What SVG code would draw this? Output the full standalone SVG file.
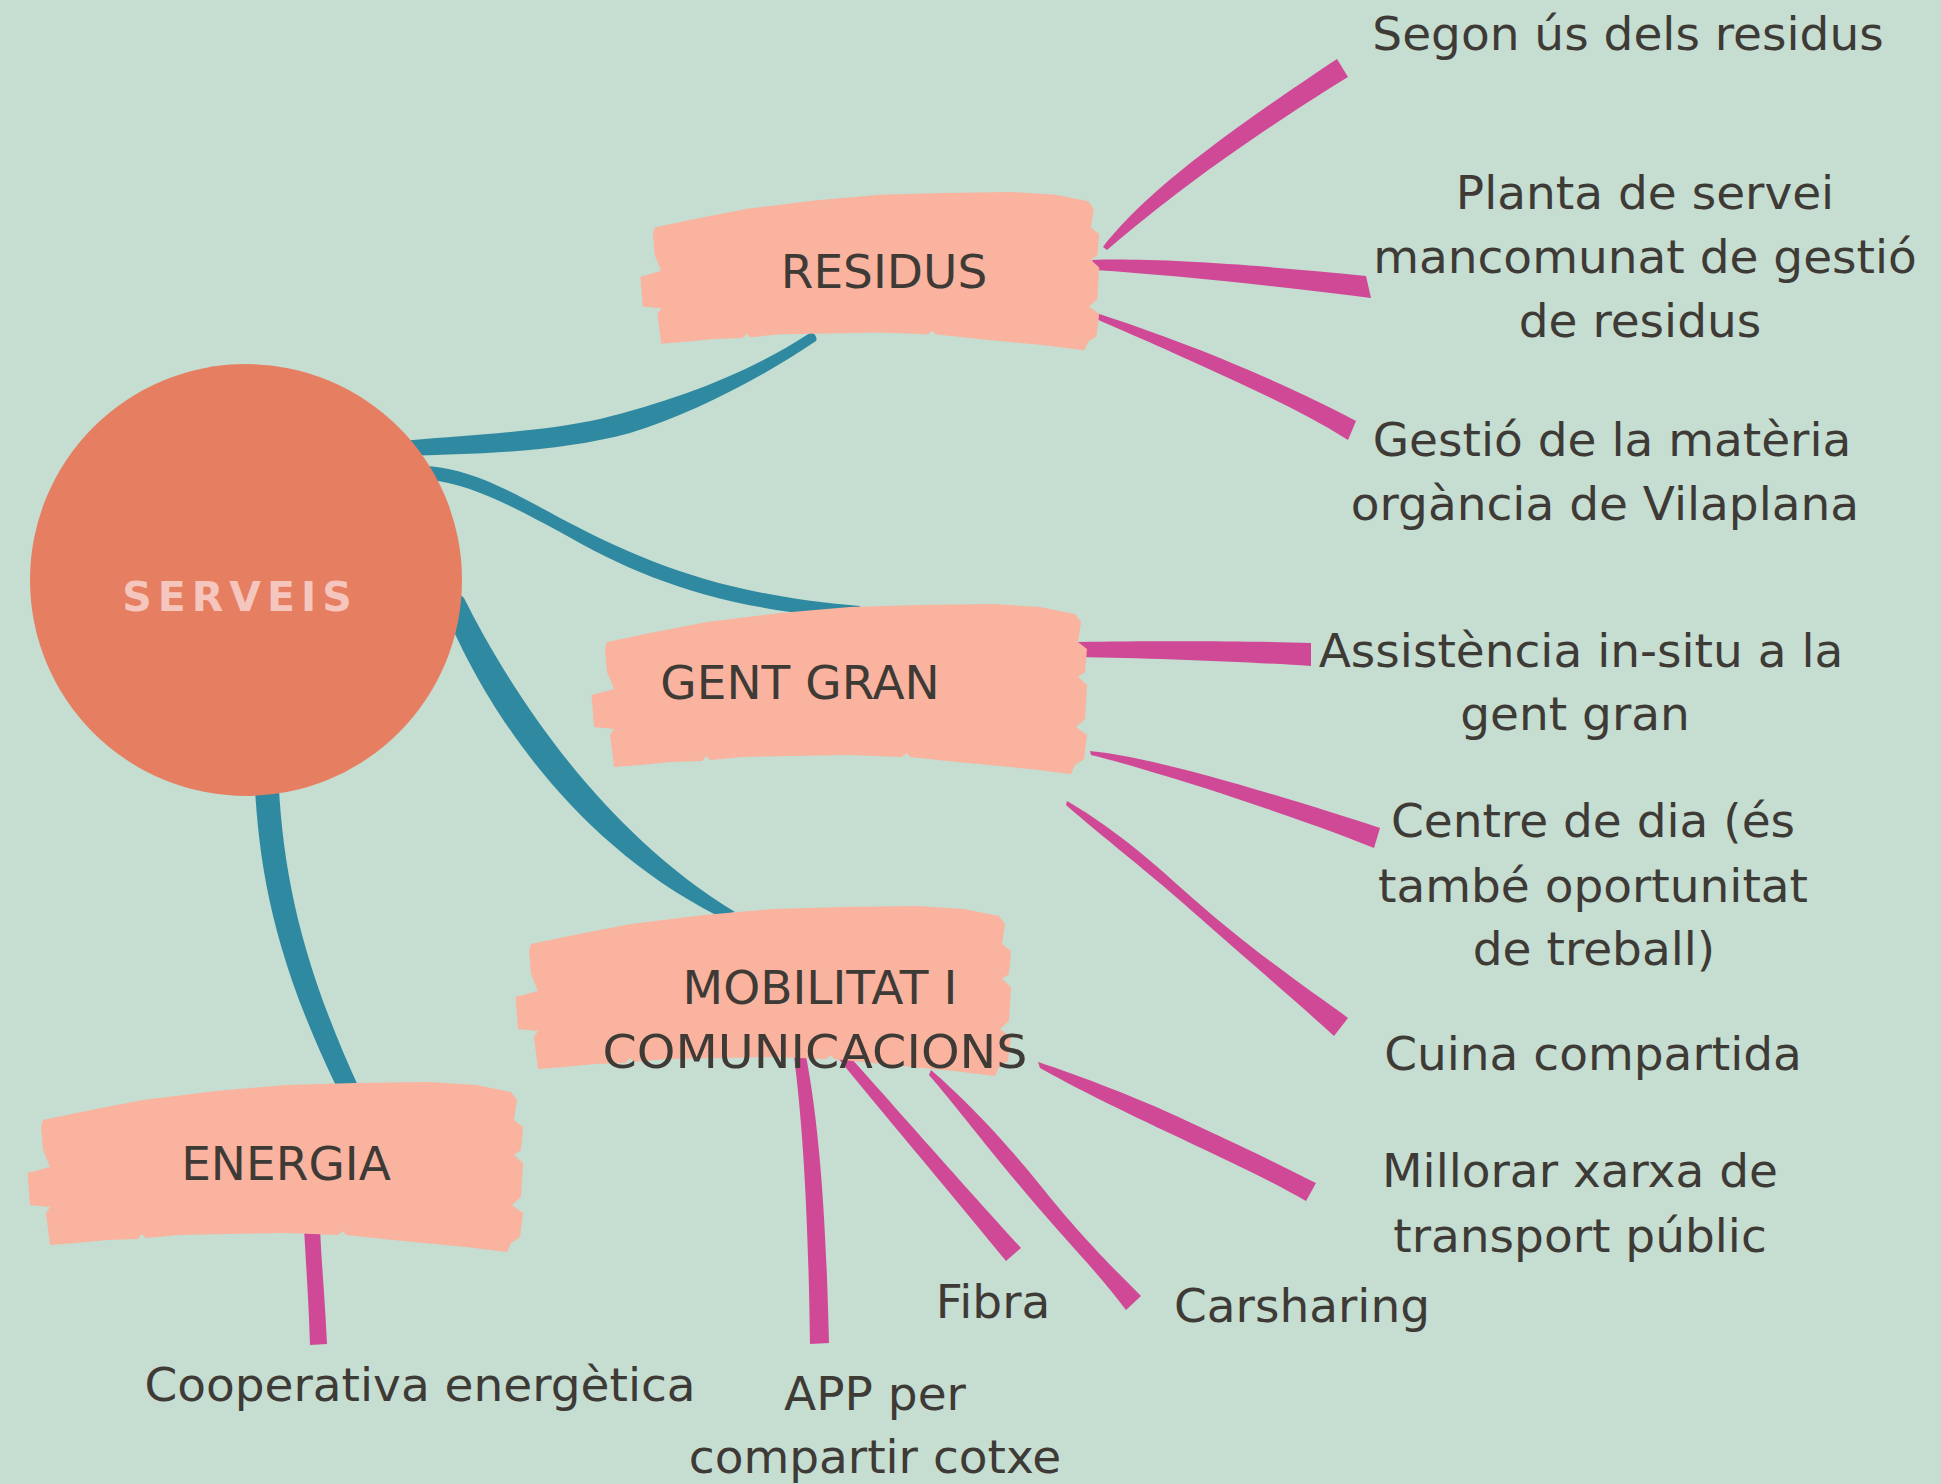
<svg xmlns="http://www.w3.org/2000/svg" xmlns:xlink="http://www.w3.org/1999/xlink" width="1941" height="1484" viewBox="0 0 1941 1484">
  <style>
    .lbl { font-family: "DejaVu Sans", "Liberation Sans", sans-serif; font-size: 47px; fill: #3E3A36; text-anchor: middle; }
    .teal { fill: #2F8AA1; }
    .pink { fill: #D04996; }
    .brush { fill: #F9B39E; }
    .title { font-family: "DejaVu Sans", "Liberation Sans", sans-serif; font-size: 41px; font-weight: bold; fill: #F5C6BE; letter-spacing: 6px; text-anchor: middle; }
  </style>
  <defs>
    <path id="brush" d="M17,37 L60,28 L117,17 L190,8 L260,2 L330,0 L403,-1 L450,2 L485,9 L491,17 L488,37 L497,44 L495,67 L488,72 L497,80 L495,114 L486,122 L497,130 L494,154 L485,160 L481,169 L440,164 L367,157 L320,152 L317,148 L312,152 L260,150 L200,151 L153,152 L120,155 L116,151 L112,156 L81,157 L50,160 L24,162 L20,130 L24,124 L4,122 L1.5,90 L24,84 L17,67 L15,44 Z"/>
  </defs>
  <rect x="0" y="0" width="1941" height="1484" fill="#C6DDD1"/>

  <g id="connectors">
    <!-- teal main branches -->
    <path class="teal" d="M400,441 L413,440 C470,435 540,432 600,419 C680,399 750,372 810,333 C814,331 818,338 816,341 C760,379 690,415 630,433 C560,452 480,454 400,456 Z"/>
    <path class="teal" d="M420,466 L428,466 C470,470 500,485 560,518 C640,560 720,595 860,606 L860,619 C720,610 640,578 560,532 C510,505 470,484 430,480 Z"/>
    <path class="teal" d="M450,585 L464,598 C510,690 600,830 735,912 L718,916 C565,838 482,698 448,618 Z"/>
    <path class="teal" d="M254,770 C258,860 270,950 338,1090 L360,1090 C300,960 282,870 278,770 Z"/>
    <!-- pink: RESIDUS -->
    <path class="pink" d="M1103,247 C1140,200 1200,150 1337,59 L1348,77 C1230,150 1160,205 1107,250 Z"/>
    <path class="pink" d="M1092,260 C1150,258 1250,264 1366,276 L1371,298 C1270,285 1170,275 1095,270 Z"/>
    <path class="pink" d="M1077,307 C1120,320 1170,338 1220,358 C1280,383 1320,402 1356,421 L1348,440 C1300,410 1250,388 1200,365 C1150,342 1110,325 1082,313 Z"/>
    <!-- pink: GENT GRAN -->
    <path class="pink" d="M1078,642 C1150,641 1250,641 1311,643 L1311,666 C1250,662 1150,658 1078,657 Z"/>
    <path class="pink" d="M1090,751 C1130,755 1180,768 1230,782 C1290,799 1340,815 1380,828 L1374,848 C1320,826 1270,810 1220,793 C1170,777 1120,762 1091,755 Z"/>
    <path class="pink" d="M1067,801 C1100,820 1140,850 1180,887 C1250,950 1310,990 1348,1018 L1334,1036 C1300,1005 1250,962 1200,918 C1150,873 1100,835 1066,805 Z"/>
    <!-- pink: MOBILITAT -->
    <path class="pink" d="M1038,1062 C1080,1076 1140,1098 1200,1127 C1250,1150 1290,1170 1316,1183 L1306,1201 C1270,1180 1230,1162 1180,1138 C1120,1110 1070,1085 1040,1068 Z"/>
    <path class="pink" d="M931,1070 C960,1095 1000,1135 1040,1185 C1080,1235 1110,1265 1141,1296 L1126,1310 C1100,1275 1070,1245 1030,1198 C985,1145 955,1105 929,1075 Z"/>
    <path class="pink" d="M849,1056 C880,1090 950,1170 1021,1248 L1006,1261 C940,1180 880,1110 838,1058 Z"/>
    <path class="pink" d="M794,1056 C802,1120 808,1200 810,1344 L829,1343 C826,1220 820,1130 806,1056 Z"/>
    <!-- pink: ENERGIA -->
    <path class="pink" d="M304,1228 C307,1280 309,1310 310,1345 L327,1344 C325,1300 322,1270 320,1228 Z"/>
  </g>

  <g id="serveis">
    <circle cx="246" cy="580" r="216" fill="#E67F62"/>
    <text class="title" x="240" y="611">SERVEIS</text>
  </g>

  <g id="residus">
    <use xlink:href="#brush" href="#brush" class="brush" transform="translate(639,193) scale(0.926,0.93)"/>
    <text class="lbl" x="884" y="288">RESIDUS</text>
  </g>

  <g id="gent-gran">
    <use xlink:href="#brush" href="#brush" class="brush" transform="translate(590,605)"/>
    <text class="lbl" x="800" y="699">GENT GRAN</text>
  </g>

  <g id="mobilitat">
    <use xlink:href="#brush" href="#brush" class="brush" transform="translate(514,907)"/>
    <text class="lbl" x="820" y="1004">MOBILITAT I</text>
    <text class="lbl" x="815" y="1068" textLength="425" lengthAdjust="spacingAndGlyphs">COMUNICACIONS</text>
  </g>

  <g id="energia">
    <use xlink:href="#brush" href="#brush" class="brush" transform="translate(26,1083)"/>
    <text class="lbl" x="286" y="1180">ENERGIA</text>
  </g>

  <g id="segon-us"><text class="lbl" x="1628" y="50">Segon ús dels residus</text></g>
  <g id="planta">
    <text class="lbl" x="1645" y="209">Planta de servei</text>
    <text class="lbl" x="1645" y="273">mancomunat de gestió</text>
    <text class="lbl" x="1640" y="337">de residus</text>
  </g>
  <g id="gestio">
    <text class="lbl" x="1612" y="456">Gestió de la matèria</text>
    <text class="lbl" x="1605" y="520">orgància de Vilaplana</text>
  </g>
  <g id="assistencia">
    <text class="lbl" x="1581" y="667">Assistència in-situ a la</text>
    <text class="lbl" x="1575" y="730">gent gran</text>
  </g>
  <g id="centre-dia">
    <text class="lbl" x="1593" y="837">Centre de dia (és</text>
    <text class="lbl" x="1593" y="902">també oportunitat</text>
    <text class="lbl" x="1594" y="965">de treball)</text>
  </g>
  <g id="cuina"><text class="lbl" x="1593" y="1070">Cuina compartida</text></g>
  <g id="millorar">
    <text class="lbl" x="1580" y="1187">Millorar xarxa de</text>
    <text class="lbl" x="1580" y="1252">transport públic</text>
  </g>
  <g id="carsharing"><text class="lbl" x="1302" y="1322">Carsharing</text></g>
  <g id="fibra"><text class="lbl" x="993" y="1318">Fibra</text></g>
  <g id="app">
    <text class="lbl" x="875" y="1410">APP per</text>
    <text class="lbl" x="875" y="1473">compartir cotxe</text>
  </g>
  <g id="cooperativa"><text class="lbl" x="420" y="1401">Cooperativa energètica</text></g>
</svg>
